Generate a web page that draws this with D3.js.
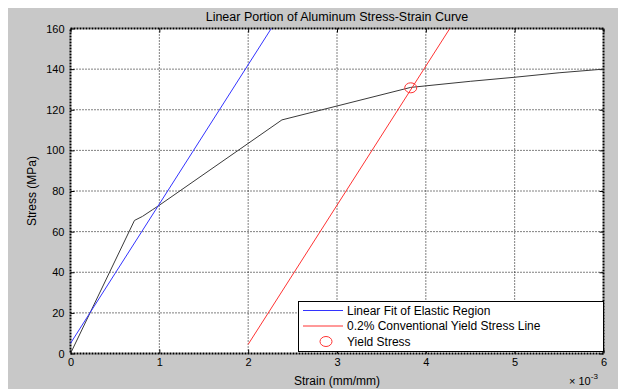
<!DOCTYPE html>
<html lang="en">
<head>
<meta charset="UTF-8">
<title>Linear Portion of Aluminum Stress-Strain Curve</title>
<script src="https://d3js.org/d3.v7.min.js"></script>
<style>
    body { margin: 0; background: #fff; }
    text { font-family: "Liberation Sans", Arial, sans-serif; fill: #000; }
</style>
</head>
<body>
<script>
    // strain in units of 1e-3 mm/mm, stress in MPa
    var curveStrain = [0, 0.72, 0.81, 0.92, 1.0, 2.38, 3.83, 4.5, 5.0, 5.5, 6.0];
    var curveStress = [0, 65.5, 67.5, 70.7, 73, 115, 131, 134, 136, 138.2, 140];

    var fitStrain = [0, 2.26];
    var fitStress = [5, 160];

    var offsetStrain = [2, 4.27];
    var offsetStress = [4.5, 160];

    var yieldStrain = [3.83];
    var yieldStress = [130.8];

    var xTicks = [0, 1, 2, 3, 4, 5, 6];
    var yTicks = [0, 20, 40, 60, 80, 100, 120, 140, 160];

    var legendLabels = ["Linear Fit of Elastic Region", "0.2% Conventional Yield Stress Line", "Yield Stress"];

    var w = 618, h = 389;
    var pLeft = 70.5, pRight = 603.5, pTop = 28.5, pBottom = 353.5;

    var svg = d3.select("body").append("svg")
        .attr("width", w)
        .attr("height", h);

    // grey figure background
    svg.append("rect")
        .attr("x", 8).attr("y", 8)
        .attr("width", w - 8).attr("height", h - 8)
        .attr("fill", "#c8c8c8");

    svg.append("rect")
        .attr("x", pLeft).attr("y", pTop)
        .attr("width", pRight - pLeft).attr("height", pBottom - pTop)
        .attr("fill", "#fff");

    var x = d3.scaleLinear().domain([0, 6]).range([pLeft, pRight]);
    var y = d3.scaleLinear().domain([0, 160]).range([pBottom, pTop]);

    // grid
    svg.append("g").selectAll("line")
        .data(xTicks.slice(1, -1))
        .enter().append("line")
        .attr("x1", d => x(d)).attr("x2", d => x(d))
        .attr("y1", pTop).attr("y2", pBottom)
        .attr("stroke", "#000").attr("stroke-dasharray", "1,2");

    svg.append("g").selectAll("line")
        .data(yTicks.slice(1, -1))
        .enter().append("line")
        .attr("y1", d => y(d)).attr("y2", d => y(d))
        .attr("x1", pLeft).attr("x2", pRight)
        .attr("stroke", "#000").attr("stroke-dasharray", "1,2");

    // axes
    var xAxis = d3.axisBottom(x).tickValues(xTicks).tickSize(-4).tickPadding(5).tickFormat(d3.format("d"));
    var yAxis = d3.axisLeft(y).tickValues(yTicks).tickSize(-4).tickPadding(6).tickFormat(d3.format("d"));

    var gx = svg.append("g").attr("transform", "translate(0," + pBottom + ")").call(xAxis);
    var gy = svg.append("g").attr("transform", "translate(" + pLeft + ",0)").call(yAxis);
    var gx2 = svg.append("g").attr("transform", "translate(0," + pTop + ")")
        .call(d3.axisTop(x).tickValues(xTicks).tickSize(-4).tickFormat(""));
    var gy2 = svg.append("g").attr("transform", "translate(" + pRight + ",0)")
        .call(d3.axisRight(y).tickValues(yTicks).tickSize(-4).tickFormat(""));

    [gx, gy, gx2, gy2].forEach(function(g) {
        g.select(".domain").remove();
        g.selectAll(".tick line").attr("stroke", "#000");
        g.selectAll("text").style("font-size", "11px").style("font-family", "Liberation Sans, Arial, sans-serif");
    });

    // box
    svg.append("rect")
        .attr("x", pLeft).attr("y", pTop)
        .attr("width", pRight - pLeft).attr("height", pBottom - pTop)
        .attr("fill", "none")
        .attr("stroke", "#000")
        .attr("stroke-width", 2)
        .attr("stroke-dasharray", "2,1");

    var line = d3.line()
        .x(d => x(d[0]))
        .y(d => y(d[1]));

    svg.append("path")
        .datum(d3.zip(curveStrain, curveStress))
        .attr("d", line)
        .attr("fill", "none")
        .attr("stroke", "#3a3a3a")
        .attr("stroke-width", 1);

    svg.append("path")
        .datum(d3.zip(fitStrain, fitStress))
        .attr("d", line)
        .attr("fill", "none")
        .attr("stroke", "#3333ff")
        .attr("stroke-width", 1);

    svg.append("path")
        .datum(d3.zip(offsetStrain, offsetStress))
        .attr("d", line)
        .attr("fill", "none")
        .attr("stroke", "#ff3333")
        .attr("stroke-width", 1);

    svg.selectAll(".yield")
        .data(d3.zip(yieldStrain, yieldStress))
        .enter().append("ellipse")
        .attr("cx", d => x(d[0]))
        .attr("cy", d => y(d[1]))
        .attr("rx", 6).attr("ry", 5)
        .attr("fill", "none")
        .attr("stroke", "#ff3333")
        .attr("stroke-width", 1);

    // legend
    var lg = svg.append("g");
    lg.append("rect")
        .attr("x", 298.5).attr("y", 301.5)
        .attr("width", pRight - 298.5).attr("height", 50)
        .attr("fill", "#fff")
        .attr("stroke", "#000");

    var legendColors = ["#3333ff", "#ff3333", "#ff3333"];
    legendLabels.forEach(function(label, i) {
        var ly = 310.5 + i * 15.5;
        if (i < 2) {
            lg.append("line")
                .attr("x1", 303).attr("x2", 343)
                .attr("y1", ly).attr("y2", ly)
                .attr("stroke", legendColors[i]);
        } else {
            lg.append("ellipse")
                .attr("cx", 326).attr("cy", ly)
                .attr("rx", 6).attr("ry", 5)
                .attr("fill", "none")
                .attr("stroke", legendColors[i]);
        }
        lg.append("text")
            .attr("x", 347).attr("y", ly + 4)
            .style("font-size", "12px")
            .text(label);
    });

    // titles
    svg.append("text")
        .attr("x", (pLeft + pRight) / 2).attr("y", 21)
        .attr("text-anchor", "middle")
        .style("font-size", "12.5px")
        .text("Linear Portion of Aluminum Stress-Strain Curve");

    svg.append("text")
        .attr("x", (pLeft + pRight) / 2).attr("y", 385)
        .attr("text-anchor", "middle")
        .style("font-size", "12px")
        .text("Strain (mm/mm)");

    svg.append("text")
        .attr("transform", "translate(36," + ((pTop + pBottom) / 2) + ") rotate(-90)")
        .attr("text-anchor", "middle")
        .style("font-size", "12px")
        .text("Stress (MPa)");

    var mult = svg.append("text")
        .attr("x", 569).attr("y", 385)
        .style("font-size", "11px");
    mult.append("tspan").text("\u00d7 10");
    mult.append("tspan").attr("dy", -6).style("font-size", "8px").text("-3");
</script>
</body>
</html>
